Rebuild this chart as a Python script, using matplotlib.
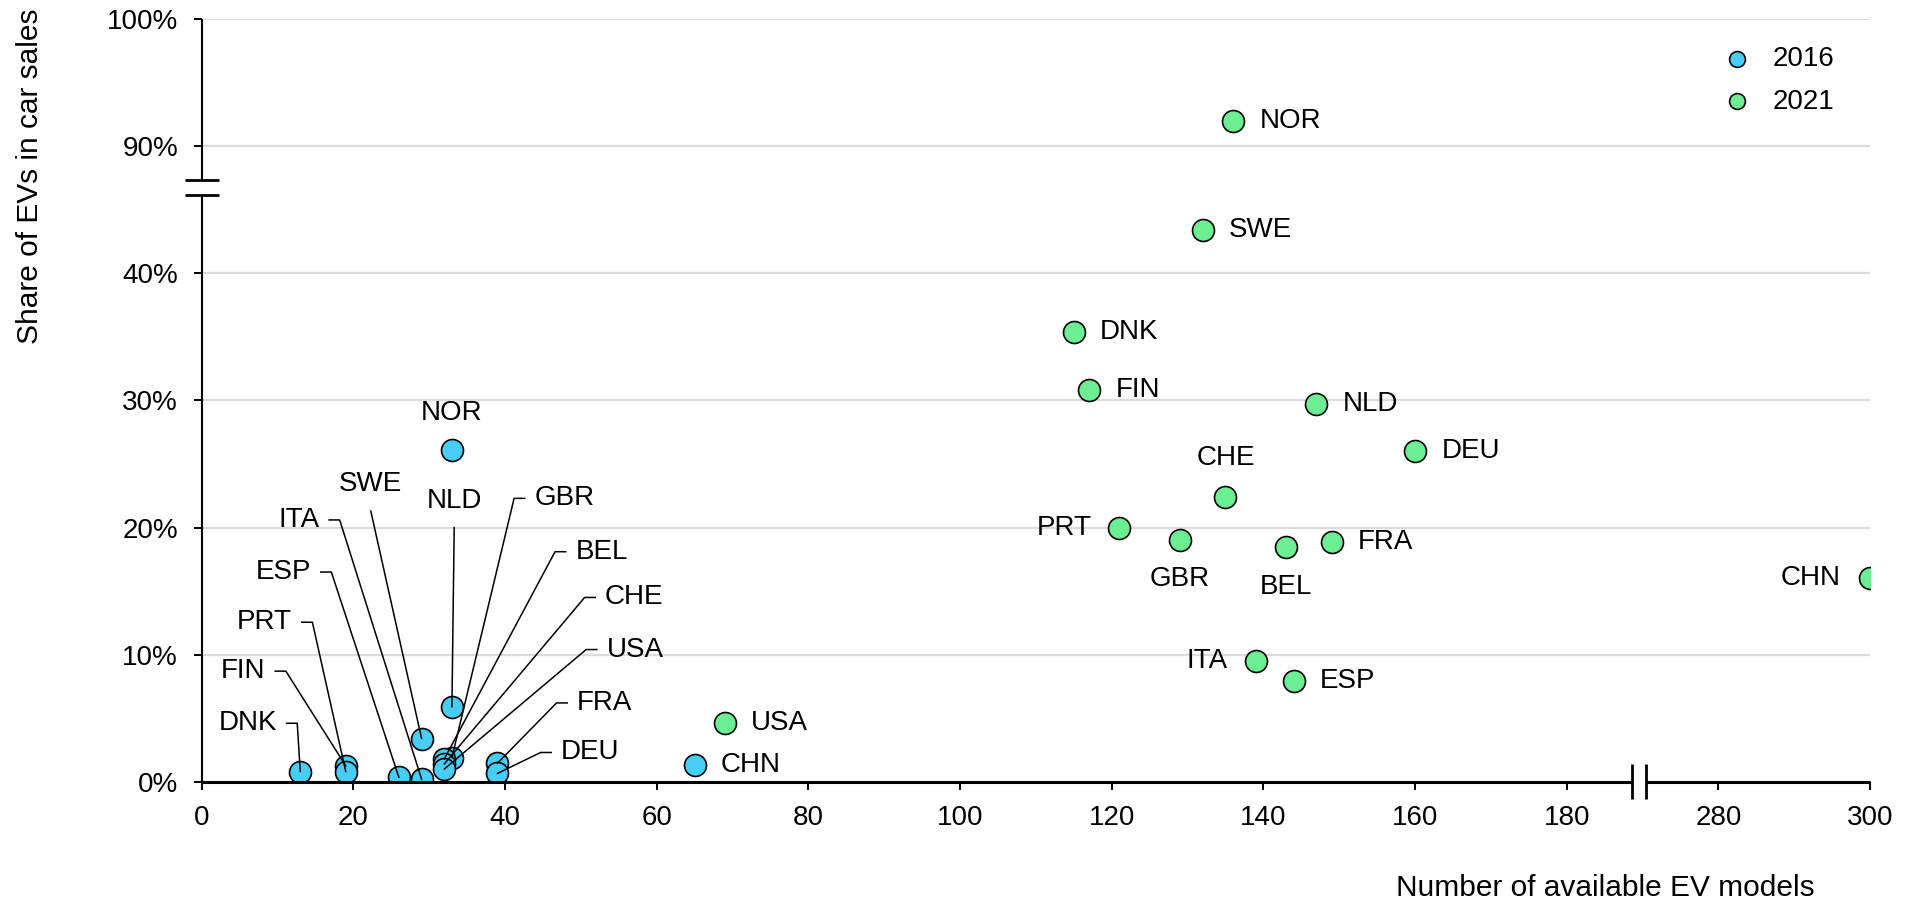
import numpy as np
import matplotlib
matplotlib.use('Agg')
import matplotlib.pyplot as plt

plt.rcParams['font.family'] = ['Liberation Sans', 'DejaVu Sans']
plt.rcParams['font.size'] = 20

# 2016 data
countries_2016 = ['NOR', 'NLD', 'SWE', 'DNK', 'FIN', 'PRT', 'ESP', 'ITA',
                  'GBR', 'BEL', 'CHE', 'USA', 'FRA', 'DEU', 'CHN']
models_2016 = [33, 33, 29, 13, 19, 19, 26, 29, 33, 32, 32, 32, 39, 39, 65]
share_2016 = [26.1, 5.9, 3.4, 0.8, 1.25, 0.8, 0.35, 0.2, 1.9, 1.8, 1.4, 1.0, 1.45, 0.65, 1.35]

# 2021 data
countries_2021 = ['NOR', 'SWE', 'DNK', 'FIN', 'NLD', 'DEU', 'CHE', 'PRT',
                  'GBR', 'BEL', 'FRA', 'CHN', 'ITA', 'ESP', 'USA']
models_2021 = [136, 132, 115, 117, 147, 160, 135, 121, 129, 143, 149, 300, 139, 144, 69]
share_2021 = [92.0, 43.4, 35.4, 30.8, 29.7, 26.0, 22.4, 19.95, 19.0, 18.5, 18.9, 16.0, 9.5, 7.9, 4.6]

x_ticks = [0, 20, 40, 60, 80, 100, 120, 140, 160, 180, 280, 300]
y_ticks = [0, 10, 20, 30, 40, 90, 100]

blue = '#47CEF7'
green = '#6CEF93'


# broken axes: squeeze 185-275 and 45%-88% into a small gap
def fwd_x(v):
    v = np.asarray(v, dtype=float)
    return np.where(v <= 185, v, np.where(v >= 275, v - 80, 185 + (v - 185) / 9))


def inv_x(u):
    u = np.asarray(u, dtype=float)
    return np.where(u <= 185, u, np.where(u >= 195, u + 80, 185 + (u - 185) * 9))


def fwd_y(v):
    v = np.asarray(v, dtype=float)
    return np.where(v <= 45, v, np.where(v >= 88, v - 40, 45 + (v - 45) * 3 / 43))


def inv_y(u):
    u = np.asarray(u, dtype=float)
    return np.where(u <= 45, u, np.where(u >= 48, u + 40, 45 + (u - 45) * 43 / 3))


fig = plt.figure(figsize=(19.17, 9.01), dpi=100)
ax = fig.add_axes([0.1052, 0.1324, 0.9755 - 0.1052, 0.9786 - 0.1324])
ax.set_xscale('function', functions=(fwd_x, inv_x))
ax.set_yscale('function', functions=(fwd_y, inv_y))
ax.set_xlim(0, 300)
ax.set_ylim(0, 100)

ax.set_xticks(x_ticks)
ax.set_xticklabels([str(t) for t in x_ticks])
ax.set_yticks(y_ticks)
ax.set_yticklabels(['%d%%' % t for t in y_ticks])
ax.tick_params(axis='x', length=6, width=1.4, pad=11, color='black', labelsize=20)
ax.tick_params(axis='y', length=6, width=1.4, pad=11, color='black', labelsize=20)
ax.minorticks_off()

ax.yaxis.grid(True, color='#DCDCDC', linewidth=1.6)
ax.get_ygridlines()[0].set_visible(False)
ax.set_axisbelow(True)

for s in ['top', 'right', 'left', 'bottom']:
    ax.spines[s].set_visible(False)

# axis lines with gaps for the breaks
ax.plot([0, 0], [0, 0.7695], transform=ax.transAxes, color='black', lw=1.5,
        clip_on=False, solid_capstyle='butt', zorder=5)
ax.plot([0, 0], [0.7896, 1], transform=ax.transAxes, color='black', lw=1.5,
        clip_on=False, solid_capstyle='butt', zorder=5)
ax.plot([0, 0.8575], [0, 0], transform=ax.transAxes, color='black', lw=2.2,
        clip_on=False, solid_capstyle='butt', zorder=5)
ax.plot([0.8659, 1], [0, 0], transform=ax.transAxes, color='black', lw=2.2,
        clip_on=False, solid_capstyle='butt', zorder=5)
for yb in [0.7695, 0.7896]:
    ax.plot([-0.0102, 0.0102], [yb, yb], transform=ax.transAxes, color='black',
            lw=2, clip_on=False, solid_capstyle='butt', zorder=5)
for xb in [0.8575, 0.8659]:
    ax.plot([xb, xb], [-0.0227, 0.0227], transform=ax.transAxes, color='black',
            lw=2, clip_on=False, solid_capstyle='butt', zorder=5)

ax.scatter(models_2016, share_2016, s=250, color=blue, edgecolor='black',
           linewidth=1.2, zorder=3, label='2016')
ax.scatter(models_2021, share_2021, s=250, color=green, edgecolor='black',
           linewidth=1.2, zorder=3, label='2021')

# 2016 labels with leader lines: elbow point and side of the label
leaders_2016 = {
    'GBR': (41.2, 22.3, 'right'), 'BEL': (46.6, 18.1, 'right'),
    'CHE': (50.5, 14.5, 'right'), 'USA': (50.7, 10.4, 'right'),
    'FRA': (46.8, 6.2, 'right'), 'DEU': (44.7, 2.3, 'right'),
    'ITA': (18.2, 20.6, 'left'), 'ESP': (17.1, 16.5, 'left'),
    'PRT': (14.6, 12.55, 'left'), 'FIN': (11.1, 8.7, 'left'),
    'DNK': (12.6, 4.6, 'left'), 'SWE': (22.3, 21.3, 'up'),
    'NLD': (33.3, 20.0, 'up'),
}
for name, x, y in zip(countries_2016, models_2016, share_2016):
    if name in leaders_2016:
        ex, ey, side = leaders_2016[name]
        if side == 'up':
            ax.plot([x, ex], [y, ey], color='black', lw=1.1, zorder=4)
            ax.annotate(name, (ex, ey), xytext=(0, 10), textcoords='offset points',
                        ha='center', va='bottom')
        else:
            d = 1.4 if side == 'right' else -1.4
            ax.plot([x, ex, ex + d], [y, ey, ey], color='black', lw=1.1, zorder=4)
            ax.annotate(name, (ex + d, ey), xytext=(7 if d > 0 else -7, 0),
                        textcoords='offset points',
                        ha='left' if d > 0 else 'right', va='center')
    elif name == 'NOR':
        ax.annotate(name, (x, y), xytext=(0, 27), textcoords='offset points',
                    ha='center', va='center')
    else:
        ax.annotate(name, (x, y), xytext=(19, 0), textcoords='offset points',
                    ha='left', va='center')

# 2021 label offsets (points)
offsets_2021 = {
    'PRT': (-20, 0, 'right'), 'ITA': (-20, 0, 'right'), 'CHN': (-21, 0, 'right'),
    'GBR': (0, -28, 'center'), 'BEL': (0, -29, 'center'), 'CHE': (0, 28, 'center'),
}
for name, x, y in zip(countries_2021, models_2021, share_2021):
    dx, dy, ha = offsets_2021.get(name, (19, 0, 'left'))
    ax.annotate(name, (x, y), xytext=(dx, dy), textcoords='offset points',
                ha=ha, va='center')

ax.legend(loc='upper left', bbox_to_anchor=(1698 / 1917, 1 - 21 / 901),
          bbox_transform=fig.transFigure, frameon=False, markerscale=0.72,
          handlelength=1.0, handletextpad=0.8, labelspacing=0.6, fontsize=20)

fig.text(30 / 1917, 1 - 8 / 901, 'Share of EVs in car sales', rotation=90,
         ha='center', va='top', fontsize=21.5)
fig.text(1815 / 1917, 5 / 901, 'Number of available EV models', ha='right',
         va='baseline', fontsize=21.5)

fig.savefig('out.png', dpi=100)
